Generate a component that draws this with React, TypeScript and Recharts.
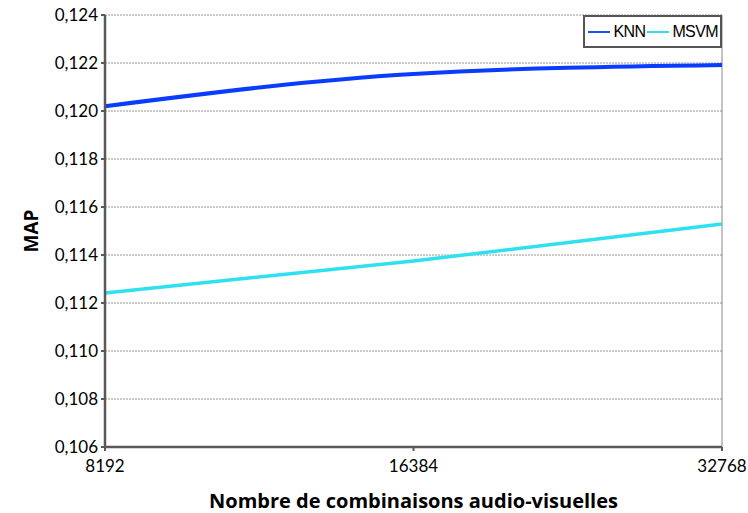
import React from 'react';
import { LineChart, Line, XAxis, YAxis, CartesianGrid, Legend, ReferenceLine, Label } from 'recharts';

const categories = ['8192', '16384', '32768'];
const knn = [0.1202, 0.12154, 0.12192];
const msvm = [0.11242, 0.11375, 0.11529];
const yTicks = [0.106, 0.108, 0.11, 0.112, 0.114, 0.116, 0.118, 0.12, 0.122, 0.124];

const data = categories.map((c, i) => ({ name: c, KNN: knn[i], MSVM: msvm[i] }));

const fmt = (v: number) => v.toFixed(3).replace('.', ',');

const LegendBox = () => (
  <div
    style={{
      border: '2px solid #555',
      background: '#fff',
      display: 'flex',
      alignItems: 'center',
      padding: '5px 2px 5px 3px',
      fontFamily: '"Liberation Sans", Arial, sans-serif',
      fontSize: 16,
      color: '#000',
      lineHeight: '19px',
      letterSpacing: '-0.6px',
    }}
  >
    <span style={{ display: 'inline-block', width: 22, height: 2, background: '#1a4fff', marginRight: 3 }} />
    <span style={{ marginRight: 2 }}>KNN</span>
    <span style={{ display: 'inline-block', width: 22, height: 2, background: '#33ddee', marginRight: 3 }} />
    <span>MSVM</span>
  </div>
);

export default function App() {
  return (
    <div style={{ position: 'absolute', left: 0, top: 0, background: '#fff' }}>
      <LineChart
        width={748}
        height={513}
        data={data}
        margin={{ top: 15, right: 26, bottom: 0, left: 0 }}
        style={{ fontFamily: 'Lato, "Open Sans", sans-serif' }}
      >
        <CartesianGrid vertical={false} stroke="#bbb" strokeDasharray="2 1" strokeWidth={1.5} />
        <XAxis
          dataKey="name"
          height={66}
          tickSize={4}
          tickMargin={9}
          tick={{ fill: '#000', fontSize: 17 }}
          axisLine={{ stroke: '#595959', strokeWidth: 2.5 }}
          tickLine={{ stroke: '#595959', strokeWidth: 2 }}
          interval={0}
        >
          <Label
            value="Nombre de combinaisons audio-visuelles"
            position="insideBottom"
            offset={5}
            style={{ fontWeight: 'bold', fontSize: 20, fill: '#000', fontFamily: '"Open Sans", sans-serif' }}
          />
        </XAxis>
        <YAxis
          width={105}
          domain={[0.106, 0.124]}
          ticks={yTicks}
          tickFormatter={fmt}
          tickSize={4}
          tickMargin={3}
          tick={{ fill: '#000', fontSize: 17 }}
          axisLine={{ stroke: '#595959', strokeWidth: 2.5 }}
          tickLine={{ stroke: '#595959', strokeWidth: 2 }}
          interval={0}
        >
          <Label
            value="MAP"
            angle={-90}
            position="insideLeft"
            offset={31}
            style={{ fontWeight: 'bold', fontSize: 19, fill: '#000', textAnchor: 'middle', fontFamily: '"Open Sans", sans-serif' }}
          />
        </YAxis>
        <ReferenceLine x="32768" stroke="#888" strokeWidth={1} />
        <Legend
          layout="horizontal"
          verticalAlign="middle"
          align="center"
          content={<LegendBox />}
          wrapperStyle={{ top: 15, right: 26, left: 'auto', bottom: 'auto', width: 'auto' }}
        />
        <Line type="monotone" dataKey="KNN" stroke="#0a3cff" strokeWidth={4} dot={false} isAnimationActive={false} />
        <Line type="monotone" dataKey="MSVM" stroke="#2ee0f0" strokeWidth={3.5} dot={false} isAnimationActive={false} />
      </LineChart>
    </div>
  );
}
